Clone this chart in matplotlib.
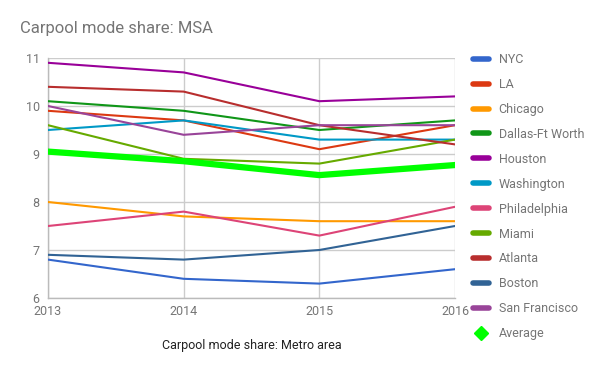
import matplotlib
matplotlib.use("Agg")
import matplotlib.pyplot as plt
from matplotlib.lines import Line2D

plt.rcParams['font.family'] = ['Roboto', 'DejaVu Sans']

years = [2013, 2014, 2015, 2016]
series_names = ["NYC", "LA", "Chicago", "Dallas-Ft Worth", "Houston", "Washington",
                "Philadelphia", "Miami", "Atlanta", "Boston", "San Francisco"]
nyc = [6.8, 6.4, 6.3, 6.6]
la = [9.9, 9.7, 9.1, 9.6]
chicago = [8.0, 7.7, 7.6, 7.6]
dallas = [10.1, 9.9, 9.5, 9.7]
houston = [10.9, 10.7, 10.1, 10.2]
washington = [9.5, 9.7, 9.3, 9.3]
philadelphia = [7.5, 7.8, 7.3, 7.9]
miami = [9.6, 8.9, 8.8, 9.3]
atlanta = [10.4, 10.3, 9.6, 9.2]
boston = [6.9, 6.8, 7.0, 7.5]
san_francisco = [10.0, 9.4, 9.6, 9.6]
average = [9.05, 8.85, 8.56, 8.77]
y_ticks = [6, 7, 8, 9, 10, 11]

series_values = [nyc, la, chicago, dallas, houston, washington,
                 philadelphia, miami, atlanta, boston, san_francisco]
colors = ["#3366cc", "#dc3912", "#ff9900", "#109618", "#990099", "#0099c6",
          "#dd4477", "#66aa00", "#b82e2e", "#316395", "#994499"]

fig = plt.figure(figsize=(6.0, 3.71), dpi=100)
ax = fig.add_axes([48/600, 1-298/371, (455-48)/600, (298-58)/371])

handles = []
for name, vals, c in zip(series_names, series_values, colors):
    ax.plot(years, vals, color=c, lw=1.5, solid_capstyle='round', zorder=3)
    handles.append(Line2D([], [], color=c, lw=4, solid_capstyle='round', label=name))
ax.plot(years, average, color="#00ff00", lw=4.5, zorder=4)
handles.append(Line2D([], [], color="#00ff00", lw=0, marker='D', markersize=7, label="Average"))

ax.set_xlim(2013, 2016)
ax.set_ylim(6, 11)
ax.set_xticks(years)
ax.set_xticklabels([str(y) for y in years])
ax.set_yticks(y_ticks)
ax.grid(True, color="#cccccc", lw=1)
ax.set_axisbelow(True)
for s in ax.spines.values():
    s.set_visible(False)
ax.tick_params(length=0, labelsize=9, colors="#757575", pad=6)
ax.tick_params(axis='x', pad=5)
ax.plot([2013, 2013], [6, 11], color="#bbbbbb", lw=1, zorder=2, clip_on=False)
ax.plot([2013, 2016], [6, 6], color="#bbbbbb", lw=1, zorder=2, clip_on=False)

ax.set_xlabel("Carpool mode share: Metro area", fontsize=9, color="#222222", labelpad=15)
fig.text(20/600, 1-28/371, "Carpool mode share: MSA", fontsize=12, color="#757575",
         va='center', ha='left')

leg = fig.legend(handles=handles, loc='upper left', bbox_to_anchor=(468/600, 1-48/371),
                 frameon=False, fontsize=9, labelcolor="#757575", handlelength=1.3,
                 handletextpad=0.75, labelspacing=0.955, borderaxespad=0)

fig.savefig("out.png", dpi=100)
